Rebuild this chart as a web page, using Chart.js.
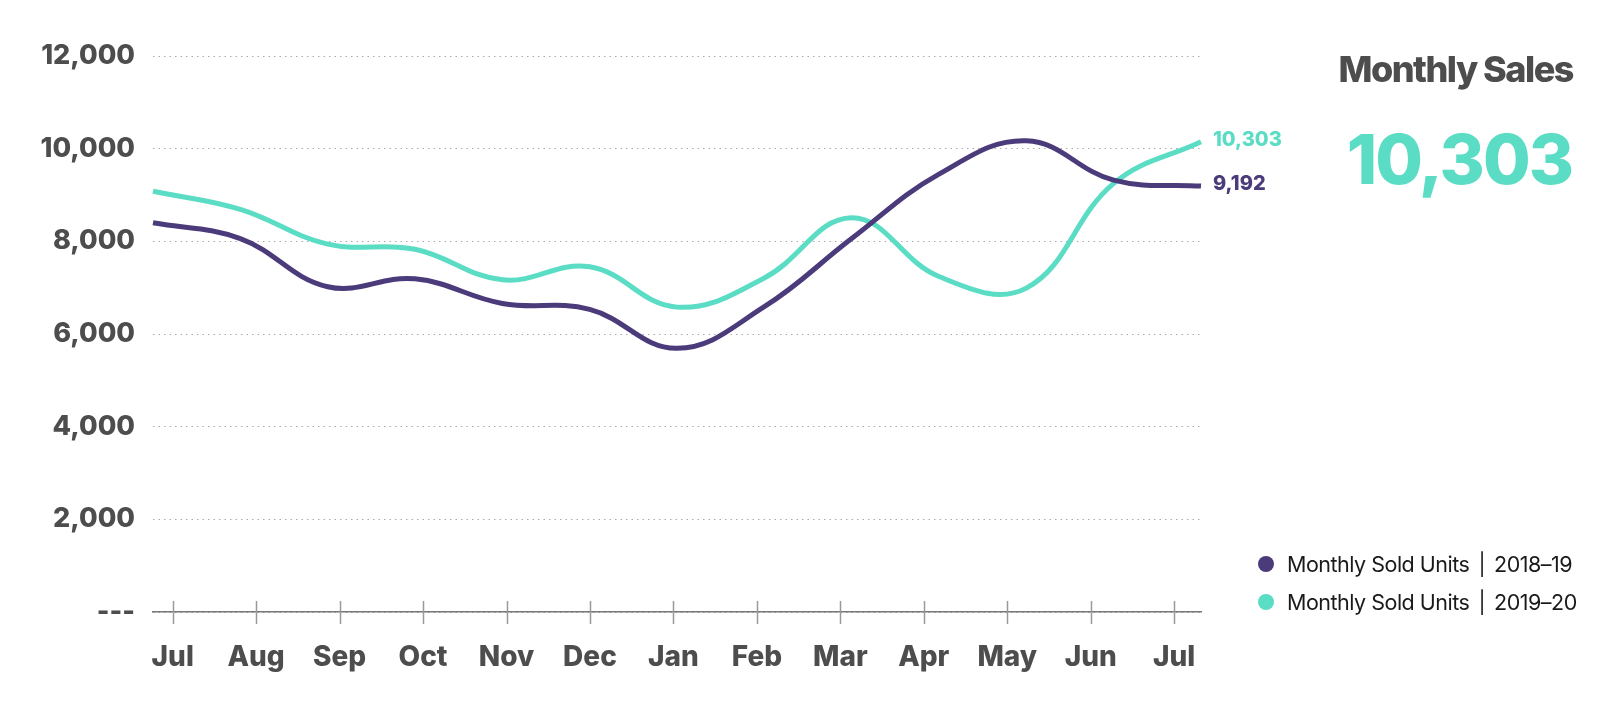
<!DOCTYPE html>
<html>
<head>
<meta charset="utf-8">
<title>Monthly Sales</title>
<script src="https://cdn.jsdelivr.net/npm/chart.js@4.4.1/dist/chart.umd.min.js"></script>
<style>
  html, body { margin: 0; padding: 0; background: #fff; }
  #wrap { position: relative; width: 1611px; height: 717px; font-family: Inter, "Noto Sans", sans-serif; }
  #chart { position: absolute; left: 0; top: 0; }
  .title {
    position: absolute; right: 38px; top: 51px;
    font-size: 36px; line-height: 36px; font-weight: 800;
    color: #4d4d4d; letter-spacing: -1.5px;
  }
  .big {
    position: absolute; right: 39px; top: 125px;
    font-size: 69px; line-height: 69px; font-weight: 800;
    color: #5bdcc4; letter-spacing: -2px;
  }
  .legend { position: absolute; left: 1258px; top: 545px; }
  .legend .item { display: flex; align-items: center; height: 38px; font-size: 21.5px; color: #1a1a1a; letter-spacing: -0.5px; }
  .legend .dot { width: 16px; height: 16px; border-radius: 50%; margin-right: 13px; }
  .legend .sep { margin: 0 9px; }
</style>
</head>
<body>
<div id="wrap">
  <canvas id="chart" width="1611" height="717"></canvas>
  <div class="title">Monthly Sales</div>
  <div class="big" id="bigValue"></div>
  <div class="legend" id="legend"></div>
</div>
<script>
// ---- data ----
const months = ['Jul', 'Aug', 'Sep', 'Oct', 'Nov', 'Dec', 'Jan', 'Feb', 'Mar', 'Apr', 'May', 'Jun', 'Jul'];
const sales2018 = [8400, 8060, 7020, 7190, 6660, 6530, 5690, 6590, 8060, 9450, 10170, 9320, 9192];
const sales2019 = [9080, 8690, 7940, 7830, 7170, 7450, 6580, 7210, 8510, 7240, 6990, 9250, 10150];
const endLabels = ['9,192', '10,303'];
const seriesNames = ['Monthly Sold Units | 2018–19', 'Monthly Sold Units | 2019–20'];
const yTicks = [0, 2000, 4000, 6000, 8000, 10000, 12000];

const PURPLE = '#4b3b7b';
const TEAL = '#5bdcc4';
const TEXT = '#4d4d4d';

document.getElementById('bigValue').textContent = endLabels[1];

// legend
const legendEl = document.getElementById('legend');
[PURPLE, TEAL].forEach((c, i) => {
  const [a, b] = seriesNames[i].split('|');
  legendEl.innerHTML += `<div class="item"><span class="dot" style="background:${c}"></span>${a.trim()}<span class="sep">|</span>${b.trim()}</div>`;
});

// tick marks that cross the x axis line
const crossTicks = {
  id: 'crossTicks',
  afterDraw(chart) {
    const s = chart.scales.x2;
    const ctx = chart.ctx;
    ctx.save();
    ctx.strokeStyle = '#999';
    ctx.lineWidth = 1.5;
    s.ticks.forEach(t => {
      const x = Math.round(s.getPixelForValue(t.value)) + 0.5;
      ctx.beginPath();
      ctx.moveTo(x, s.top - 11);
      ctx.lineTo(x, s.top + 12);
      ctx.stroke();
    });
    ctx.restore();
  }
};

// value labels at the end of each line
const endValueLabels = {
  id: 'endValueLabels',
  afterDatasetsDraw(chart) {
    const ctx = chart.ctx;
    ctx.save();
    ctx.font = '800 20px Inter';
    ctx.textBaseline = 'middle';
    ctx.textAlign = 'left';
    chart.data.datasets.forEach((ds, i) => {
      const pts = chart.getDatasetMeta(i).data;
      const p = pts[pts.length - 1];
      ctx.fillStyle = ds.borderColor;
      ctx.fillText(endLabels[i], p.x + 12, p.y - 2);
    });
    ctx.restore();
  }
};

new Chart(document.getElementById('chart'), {
  type: 'line',
  data: {
    labels: months,
    datasets: [
      { label: seriesNames[0], data: sales2018, borderColor: PURPLE, borderWidth: 5, tension: 0.4, pointRadius: 0, fill: false },
      { label: seriesNames[1], data: sales2019, borderColor: TEAL, borderWidth: 5, tension: 0.4, pointRadius: 0, fill: false }
    ]
  },
  options: {
    responsive: false,
    animation: false,
    layout: { padding: { top: 56, right: 410, bottom: 0, left: 0 } },
    plugins: { legend: { display: false }, tooltip: { enabled: false } },
    scales: {
      x: { display: false },
      x2: {
        type: 'linear',
        position: 'bottom',
        min: -0.236,
        max: 12.322,
        afterBuildTicks: s => { s.ticks = months.map((m, i) => ({ value: i })); },
        afterFit: s => { s.height = 105; },
        grid: { display: false },
        border: { display: true, color: '#777', width: 1.5 },
        ticks: {
          padding: 21,
          color: TEXT,
          font: { family: 'Inter', size: 28, weight: '800' },
          callback: v => months[v]
        }
      },
      y: {
        min: 0,
        max: 12000,
        afterBuildTicks: s => { s.ticks = yTicks.map(v => ({ value: v })); },
        afterFit: s => { s.width = 153; },
        grid: { color: '#aaa', lineWidth: 1, drawTicks: false },
        border: { display: false, dash: [1.5, 4] },
        ticks: {
          padding: 18,
          color: TEXT,
          font: { family: 'Inter', size: 27, weight: '800' },
          callback: v => v === 0 ? '---' : v.toLocaleString('en-US')
        }
      }
    }
  },
  plugins: [crossTicks, endValueLabels]
});
</script>
</body>
</html>
